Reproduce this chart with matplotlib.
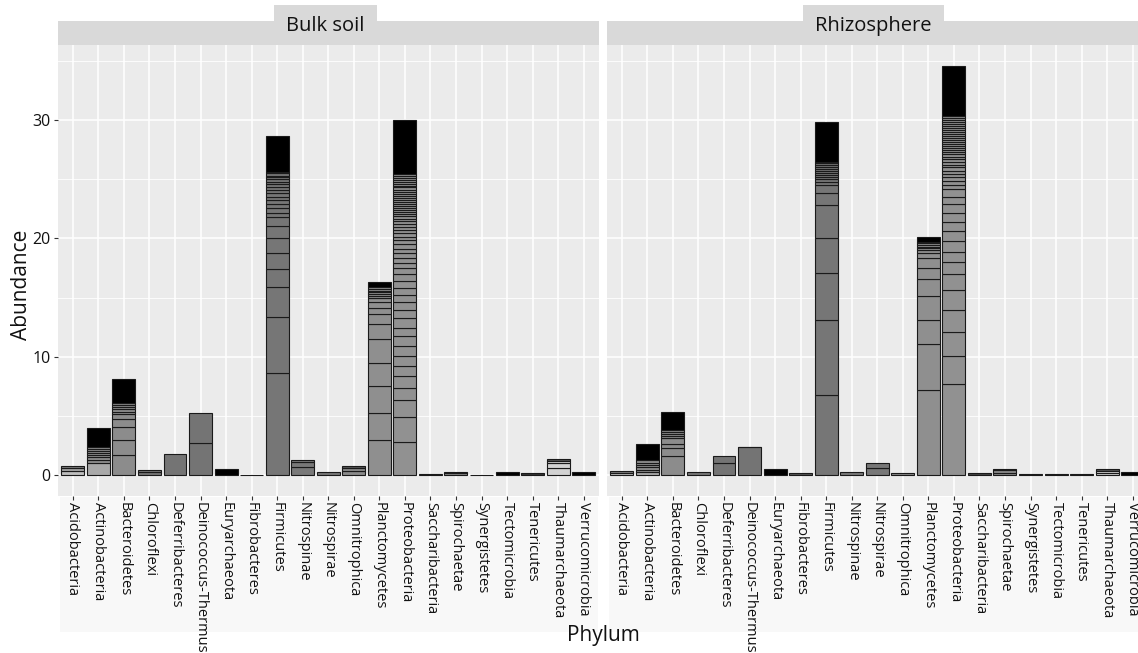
import matplotlib
matplotlib.use("Agg")
import matplotlib.pyplot as plt
from matplotlib.patches import Rectangle

plt.rcParams['font.family'] = ['Open Sans', 'DejaVu Sans']

phyla = ["Acidobacteria", "Actinobacteria", "Bacteroidetes", "Chloroflexi",
         "Deferribacteres", "Deinococcus-Thermus", "Euryarchaeota", "Fibrobacteres",
         "Firmicutes", "Nitrospinae", "Nitrospirae", "Omnitrophica", "Planctomycetes",
         "Proteobacteria", "Saccharibacteria", "Spirochaetae", "Synergistetes",
         "Tectomicrobia", "Tenericutes", "Thaumarchaeota", "Verrucomicrobia"]

facets = ["Bulk soil", "Rhizosphere"]

# cumulative segment tops (bottom -> top)
bulk_tops = {
    "Acidobacteria": [0.34, 0.56, 0.76],
    "Actinobacteria": [1.04, 1.27, 1.49, 1.72, 1.89, 2.06, 2.23, 2.39, 4.0],
    "Bacteroidetes": [1.69, 2.96, 4.03, 4.71, 5.16, 5.35, 5.55, 5.72, 5.92, 6.06, 8.14],
    "Chloroflexi": [0.22, 0.42],
    "Deferribacteres": [1.8],
    "Deinococcus-Thermus": [2.73, 5.27],
    "Euryarchaeota": [0.52],
    "Fibrobacteres": [0.04],
    "Firmicutes": [8.59, 13.33, 15.86, 17.39, 18.74, 20.0, 21.08, 21.78, 22.12, 22.54,
                   22.91, 23.25, 23.53, 23.81, 24.09, 24.37, 24.6, 24.8, 24.99, 25.16,
                   25.27, 25.5, 25.64, 28.66],
    "Nitrospinae": [0.65, 1.12, 1.27],
    "Nitrospirae": [0.25],
    "Omnitrophica": [0.36, 0.62, 0.78],
    "Planctomycetes": [2.96, 5.21, 7.52, 9.5, 11.47, 12.74, 13.58, 14.14, 14.65, 14.93,
                       15.13, 15.3, 15.44, 15.58, 15.72, 15.86, 16.31],
    "Proteobacteria": [2.82, 4.93, 6.34, 7.35, 8.37, 9.21, 10.06, 10.9, 11.75, 12.45,
                       13.24, 13.95, 14.6, 15.22, 15.83, 16.4, 16.96, 17.47, 17.89, 18.32,
                       18.74, 19.13, 19.53, 19.86, 20.15, 20.43, 20.71, 20.99, 21.22, 21.44,
                       21.67, 21.89, 22.06, 22.23, 22.4, 22.57, 22.74, 22.91, 23.08, 23.25,
                       23.41, 23.58, 23.75, 23.92, 24.09, 24.32, 24.43, 24.6, 24.77, 24.94,
                       25.11, 25.27, 25.44, 30.01],
    "Saccharibacteria": [0.12],
    "Spirochaetae": [0.17, 0.28],
    "Synergistetes": [0.03],
    "Tectomicrobia": [0.27],
    "Tenericutes": [0.13],
    "Thaumarchaeota": [0.56, 0.98, 1.18, 1.36],
    "Verrucomicrobia": [0.27],
}

rhizo_tops = {
    "Acidobacteria": [0.2, 0.37],
    "Actinobacteria": [0.23, 0.42, 0.65, 0.85, 1.04, 1.25, 2.62],
    "Bacteroidetes": [1.61, 2.25, 2.62, 3.1, 3.3, 3.47, 3.66, 3.8, 5.35],
    "Chloroflexi": [0.27],
    "Deferribacteres": [0.98, 1.64],
    "Deinococcus-Thermus": [2.33, 2.4],
    "Euryarchaeota": [0.47],
    "Fibrobacteres": [0.13],
    "Firmicutes": [6.76, 13.1, 17.05, 20.06, 22.82, 23.81, 24.51, 24.8, 24.99, 25.22,
                   25.39, 25.56, 25.73, 25.89, 26.06, 26.2, 26.35, 26.49, 29.81],
    "Nitrospinae": [0.26],
    "Nitrospirae": [0.56, 1.02],
    "Omnitrophica": [0.21],
    "Planctomycetes": [7.19, 11.05, 13.1, 15.13, 16.54, 17.47, 18.32, 18.74, 19.02, 19.16,
                       19.3, 19.48, 19.58, 19.72, 20.15],
    "Proteobacteria": [7.69, 10.06, 12.12, 13.95, 15.64, 16.96, 17.98, 18.88, 19.81, 20.65,
                       21.41, 22.12, 22.91, 23.53, 24.15, 24.54, 24.88, 25.16, 25.44, 25.73,
                       26.01, 26.23, 26.46, 26.68, 26.91, 27.13, 27.3, 27.47, 27.64, 27.81,
                       27.98, 28.15, 28.32, 28.49, 28.66, 28.83, 28.99, 29.16, 29.33, 29.5,
                       29.67, 29.84, 30.01, 30.21, 30.35, 34.6],
    "Saccharibacteria": [0.14],
    "Spirochaetae": [0.2, 0.4, 0.47],
    "Synergistetes": [0.05],
    "Tectomicrobia": [0.12],
    "Tenericutes": [0.12],
    "Thaumarchaeota": [0.2, 0.36, 0.52],
    "Verrucomicrobia": [0.26],
}

# grey fills per phylum (main colour), special bottom colours, black top segment
base_fill = {
    "Acidobacteria": "#a4a4a4", "Actinobacteria": "#8e8e8e", "Bacteroidetes": "#8c8c8c",
    "Chloroflexi": "#767676", "Deferribacteres": "#747474", "Deinococcus-Thermus": "#747474",
    "Euryarchaeota": "#000000", "Fibrobacteres": "#555555", "Firmicutes": "#767676",
    "Nitrospinae": "#787878", "Nitrospirae": "#777777", "Omnitrophica": "#8a8a8a",
    "Planctomycetes": "#8f8f8f", "Proteobacteria": "#919191", "Saccharibacteria": "#444444",
    "Spirochaetae": "#8a8a8a", "Synergistetes": "#666666", "Tectomicrobia": "#000000",
    "Tenericutes": "#333333", "Thaumarchaeota": "#d2d2d2", "Verrucomicrobia": "#000000",
}
bottom_fill = {"Acidobacteria": "#bebebe", "Actinobacteria": "#a9a9a9"}
black_top = {"Actinobacteria", "Bacteroidetes", "Firmicutes", "Planctomycetes",
             "Proteobacteria", "Spirochaetae"}
dark_top = {"Thaumarchaeota": "#505050", "Omnitrophica": "#555555",
            "Acidobacteria": "#7a7a7a"}

data = {"Bulk soil": bulk_tops, "Rhizosphere": rhizo_tops}

W, H = 1138, 653
fig = plt.figure(figsize=(W / 100, H / 100), dpi=100)
fig.patch.set_facecolor("white")

def fx(px):
    return px / W

def fy(py):
    return 1 - py / H

ylo, yhi = -1.73, 36.33
panel_px = [(57.5, 599), (606.5, 1148)]
panel_top, panel_bot = 45.2, 495.5
label_box = [(274, 377), (803, 944)]

# light area behind tick labels
for (x0, x1) in [(60, 598), (609, 1138)]:
    fig.patches.append(Rectangle((fx(x0), fy(632)), fx(x1 - x0), (632 - 497) / H,
                                 transform=fig.transFigure, facecolor="#f8f8f8",
                                 edgecolor="none", zorder=-5))

for k, facet in enumerate(facets):
    x0, x1 = panel_px[k]
    ax = fig.add_axes([fx(x0), fy(panel_bot), fx(x1 - x0), (panel_bot - panel_top) / H])
    ax.set_facecolor("#ebebeb")
    for s in ax.spines.values():
        s.set_visible(False)
    xs = list(range(len(phyla)))
    ax.set_xlim(-0.6, len(phyla) - 0.4)
    ax.set_ylim(ylo, yhi)
    ax.set_yticks([0, 10, 20, 30])
    ax.set_yticks([5, 15, 25, 35], minor=True)
    ax.set_xticks(xs)
    ax.grid(True, which="major", color="white", linewidth=1.1, zorder=0)
    ax.grid(True, which="minor", axis="y", color="white", linewidth=0.6, zorder=0)
    ax.set_axisbelow(True)
    ax.tick_params(which="minor", length=0)
    ax.tick_params(which="major", length=3, width=0.8, color="#333333",
                   labelsize=10.5, labelcolor="#111111", pad=2)
    ax.set_xticklabels(phyla, rotation=270, va="top", ha="center")
    if k == 0:
        ax.set_yticklabels(["0", "10", "20", "30"], fontsize=11.5)
    else:
        ax.tick_params(axis="y", which="both", length=0, labelleft=False)

    tops = data[facet]
    for i, ph in enumerate(phyla):
        segs = tops[ph]
        prev = 0.0
        n = len(segs)
        for j, t in enumerate(segs):
            col = base_fill[ph]
            if j == 0 and ph in bottom_fill and n > 1:
                col = bottom_fill[ph]
            if j == n - 1 and n > 1:
                if ph in black_top:
                    col = "#000000"
                elif ph in dark_top:
                    col = dark_top[ph]
            ax.bar(i, t - prev, bottom=prev, width=0.9, color=col,
                   edgecolor="#1a1a1a", linewidth=0.8, zorder=2)
            prev = t

    # strip
    fig.patches.append(Rectangle((fx(x0), fy(45.2)), fx(min(x1, W) - x0), (45.2 - 21) / H,
                                 transform=fig.transFigure, facecolor="#d9d9d9",
                                 edgecolor="none", zorder=1))
    bx0, bx1 = label_box[k]
    fig.patches.append(Rectangle((fx(bx0), fy(45.2)), fx(bx1 - bx0), (45.2 - 5) / H,
                                 transform=fig.transFigure, facecolor="#d9d9d9",
                                 edgecolor="none", zorder=1))
    fig.text(fx((bx0 + bx1) / 2), fy(26), facet, ha="center", va="center",
             fontsize=14.5, color="#111111")

fig.text(fx(22), fy(285), "Abundance", rotation=90, ha="center", va="center",
         fontsize=15, color="#111111")
fig.text(fx(603), fy(636), "Phylum", ha="center", va="center",
         fontsize=15, color="#111111")

fig.savefig("out.png", dpi=100)
